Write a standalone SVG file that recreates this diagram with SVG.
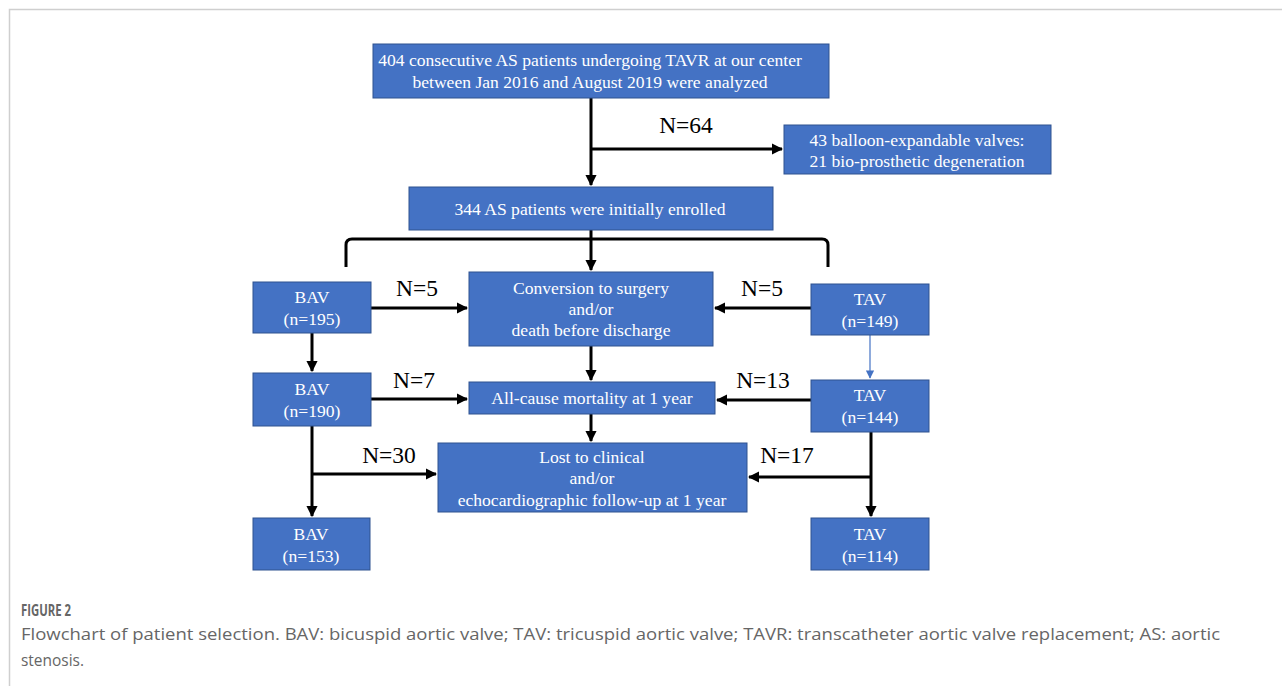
<svg xmlns="http://www.w3.org/2000/svg" width="1282" height="686" viewBox="0 0 1282 686">
<style>
.box{fill:#4472C4;stroke:#2F528F;stroke-width:1}
.bt{font-family:"Liberation Serif","Times New Roman",serif;font-size:17.6px;fill:#fff;text-anchor:middle}
.nl{font-family:"Liberation Serif","Times New Roman",serif;font-size:23.5px;fill:#000;text-anchor:middle}
.ln{fill:none;stroke:#000;stroke-width:3}
.cap{font-family:"Open Sans","Liberation Sans",sans-serif;fill:#666}
</style>
<defs>
<marker id="ah" viewBox="0 0 10 10" refX="9" refY="5" markerWidth="3.8" markerHeight="3.8" orient="auto" markerUnits="strokeWidth">
<path d="M0,0 L10,5 L0,10 z" fill="#000"/>
</marker>
<marker id="ahb" viewBox="0 0 10 10" refX="9" refY="5" markerWidth="7" markerHeight="7" orient="auto" markerUnits="strokeWidth">
<path d="M0,0 L10,5 L0,10 z" fill="#4472C4"/>
</marker>
</defs>
<rect width="1282" height="686" fill="#fff"/>
<path d="M9.5,686 V9.5 H1282" fill="none" stroke="#cfcfcf" stroke-width="1.5"/>

<g id="connectors">
<path class="ln" d="M591,98 V185" marker-end="url(#ah)"/>
<path class="ln" d="M591,149 H782" marker-end="url(#ah)"/>
<path class="ln" d="M346,267 V245 Q346,239 352,239 H822 Q828,239 828,245 V267"/>
<path class="ln" d="M591,230 V270" marker-end="url(#ah)"/>
<path class="ln" d="M371,308 H467" marker-end="url(#ah)"/>
<path class="ln" d="M811,308 H715" marker-end="url(#ah)"/>
<path class="ln" d="M312,333 V371" marker-end="url(#ah)"/>
<path d="M870,335 V378" fill="none" stroke="#4472C4" stroke-width="1.2" marker-end="url(#ahb)"/>
<path class="ln" d="M591,346 V380" marker-end="url(#ah)"/>
<path class="ln" d="M371,399 H467" marker-end="url(#ah)"/>
<path class="ln" d="M811,400 H717" marker-end="url(#ah)"/>
<path class="ln" d="M591,414 V441" marker-end="url(#ah)"/>
<path class="ln" d="M312,426 V516" marker-end="url(#ah)"/>
<path class="ln" d="M312,474 H436" marker-end="url(#ah)"/>
<path class="ln" d="M871,432 V516" marker-end="url(#ah)"/>
<path class="ln" d="M871,477 H749" marker-end="url(#ah)"/>
<text class="nl" x="686" y="133">N=64</text>
<text class="nl" x="417" y="296">N=5</text>
<text class="nl" x="762" y="296">N=5</text>
<text class="nl" x="414" y="388">N=7</text>
<text class="nl" x="763" y="388">N=13</text>
<text class="nl" x="389" y="463">N=30</text>
<text class="nl" x="787" y="463">N=17</text>
</g>

<g id="n-start">
<rect class="box" x="373" y="44" width="456" height="54"/>
<text class="bt" x="590" y="66">404 consecutive AS patients undergoing TAVR at our center</text>
<text class="bt" x="590" y="88">between Jan 2016 and August 2019 were analyzed</text>
</g>
<g id="n-excluded">
<rect class="box" x="784" y="125" width="267" height="49"/>
<text class="bt" x="917" y="146">43 balloon-expandable valves:</text>
<text class="bt" x="917" y="167">21 bio-prosthetic degeneration</text>
</g>
<g id="n-enrolled">
<rect class="box" x="409" y="187" width="364" height="43"/>
<text class="bt" x="590" y="215">344 AS patients were initially enrolled</text>
</g>
<g id="n-conversion">
<rect class="box" x="469" y="272" width="244" height="74"/>
<text class="bt" x="591" y="294">Conversion to surgery</text>
<text class="bt" x="591" y="315">and/or</text>
<text class="bt" x="591" y="336">death before discharge</text>
</g>
<g id="n-bav195">
<rect class="box" x="253" y="282" width="118" height="51"/>
<text class="bt" x="312" y="303">BAV</text>
<text class="bt" x="312" y="325">(n=195)</text>
</g>
<g id="n-tav149">
<rect class="box" x="811" y="284" width="118" height="51"/>
<text class="bt" x="870" y="305">TAV</text>
<text class="bt" x="870" y="327">(n=149)</text>
</g>
<g id="n-mortality">
<rect class="box" x="469" y="382" width="246" height="32"/>
<text class="bt" x="592" y="404">All-cause mortality at 1 year</text>
</g>
<g id="n-bav190">
<rect class="box" x="253" y="373" width="118" height="53"/>
<text class="bt" x="312" y="395">BAV</text>
<text class="bt" x="312" y="417">(n=190)</text>
</g>
<g id="n-tav144">
<rect class="box" x="811" y="380" width="118" height="52"/>
<text class="bt" x="870" y="401">TAV</text>
<text class="bt" x="870" y="423">(n=144)</text>
</g>
<g id="n-lost">
<rect class="box" x="438" y="443" width="309" height="69"/>
<text class="bt" x="592" y="463">Lost to clinical</text>
<text class="bt" x="592" y="484">and/or</text>
<text class="bt" x="592" y="506">echocardiographic follow-up at 1 year</text>
</g>
<g id="n-bav153">
<rect class="box" x="253" y="518" width="117" height="52"/>
<text class="bt" x="311" y="540">BAV</text>
<text class="bt" x="311" y="562">(n=153)</text>
</g>
<g id="n-tav114">
<rect class="box" x="811" y="518" width="118" height="52"/>
<text class="bt" x="870" y="540">TAV</text>
<text class="bt" x="870" y="562">(n=114)</text>
</g>

<g id="caption">
<text class="cap" x="21" y="616" font-size="15.5" font-weight="bold" fill="#555" textLength="50" lengthAdjust="spacingAndGlyphs">FIGURE 2</text>
<text class="cap" x="21" y="640" font-size="17" textLength="1199" lengthAdjust="spacingAndGlyphs">Flowchart of patient selection. BAV: bicuspid aortic valve; TAV: tricuspid aortic valve; TAVR: transcatheter aortic valve replacement; AS: aortic</text>
<text class="cap" x="21" y="666" font-size="17" textLength="63" lengthAdjust="spacingAndGlyphs">stenosis.</text>
</g>
</svg>
